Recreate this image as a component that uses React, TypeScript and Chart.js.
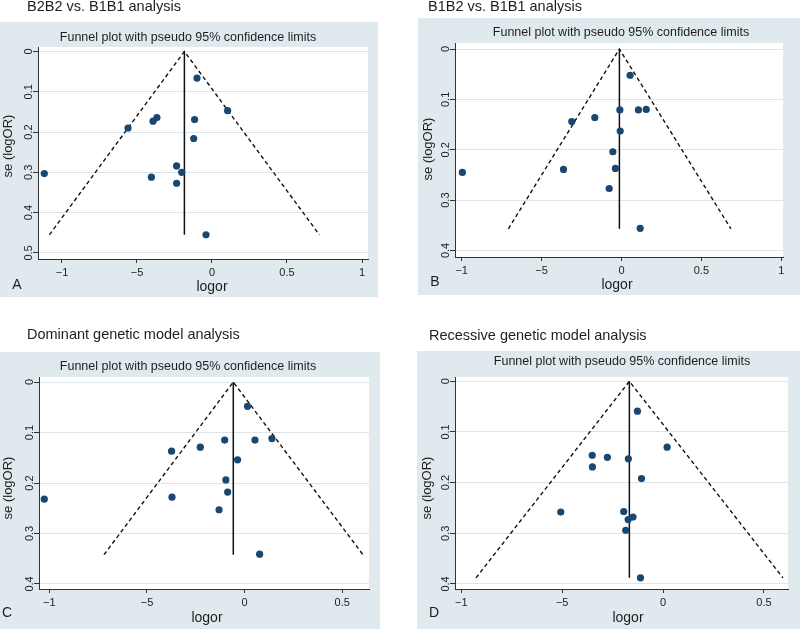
import React, { useEffect, useRef } from "react";
import { Chart, registerables } from "chart.js";
Chart.register(...registerables);

// ---------- DATA ----------
// Panel A: B2B2 vs. B1B1
const aLogor = [-0.1, 0.104, -0.367, -0.393, -0.56, -0.116, -0.122, -1.118, -0.404, -0.236, -0.202, -0.236, -0.04];
const aSe = [0.066, 0.147, 0.164, 0.173, 0.19, 0.169, 0.216, 0.303, 0.312, 0.284, 0.3, 0.327, 0.455];
const aPooled = -0.184;
const aSeMax = 0.455;
const aFunnelX = [-1.084, -0.184, 0.716];
const aFunnelY = [0.455, 0, 0.455];

// Panel B: B1B2 vs. B1B1
const bLogor = [0.054, -0.01, 0.106, 0.155, -0.311, -0.167, -0.008, -0.054, -0.363, -0.038, -0.996, -0.077, 0.117];
const bSe = [0.052, 0.121, 0.121, 0.12, 0.144, 0.136, 0.163, 0.204, 0.239, 0.237, 0.245, 0.277, 0.356];
const bPooled = -0.013;
const bSeMax = 0.357;
const bFunnelX = [-0.708, -0.013, 0.685];
const bFunnelY = [0.357, 0, 0.357];

// Panel C: Dominant genetic model
const cLogor = [0.015, 0.14, 0.053, -0.102, -0.227, -0.374, -0.036, -0.096, -0.087, -0.372, -1.026, -0.131, 0.077];
const cSe = [0.048, 0.112, 0.115, 0.115, 0.129, 0.137, 0.154, 0.194, 0.218, 0.228, 0.232, 0.253, 0.341];
const cPooled = -0.058;
const cSeMax = 0.342;
const cFunnelX = [-0.72, -0.058, 0.606];
const cFunnelY = [0.342, 0, 0.342];

// Panel D: Recessive genetic model
const dLogor = [-0.127, 0.02, -0.351, -0.276, -0.172, -0.35, -0.107, -0.507, -0.195, -0.149, -0.173, -0.185, -0.112];
const dSe = [0.059, 0.13, 0.146, 0.15, 0.153, 0.169, 0.192, 0.258, 0.257, 0.268, 0.273, 0.294, 0.388];
const dPooled = -0.167;
const dSeMax = 0.388;
const dFunnelX = [-0.927, -0.167, 0.594];
const dFunnelY = [0.388, 0, 0.388];

// Tick values and labels
const xTicksAB = [-1, -0.5, 0, 0.5, 1];
const xLabelsAB = ["\u22121", "\u22125", "0", "0.5", "1"];
const xTicksCD = [-1, -0.5, 0, 0.5];
const xLabelsCD = ["\u22121", "\u22125", "0", "0.5"];
const yTicksA = [0, 0.1, 0.2, 0.3, 0.4, 0.5];
const yLabelsA = ["0", "0.1", "0.2", "0.3", "0.4", "0.5"];
const yTicksBCD = [0, 0.1, 0.2, 0.3, 0.4];
const yLabelsBCD = ["0", "0.1", "0.2", "0.3", "0.4"];

const headings = [
  "B2B2 vs. B1B1 analysis",
  "B1B2 vs. B1B1 analysis",
  "Dominant genetic model analysis",
  "Recessive genetic model analysis",
];
const letters = ["A", "B", "C", "D"];
const plotTitle = "Funnel plot with pseudo 95% confidence limits";
const xTitle = "logor";
const yTitle = "se (logOR)";

// ---------- LAYOUT ----------
const FONT = '"Liberation Sans", Arial, Helvetica, sans-serif';
const BG = "#e0eaee";
const GRID = "#dbe5ea";
const DOT = "#1a476f";
const INK = "#1e1e1e";

type Layout = {
  left: number; top: number; w: number; h: number;
  bg: { x: number; y: number; w: number; h: number };
  area: { l: number; t: number; r: number; b: number };
  xRange: [number, number]; yRange: [number, number];
  heading: [number, number]; title: [number, number]; xT: [number, number]; yT: [number, number]; letter: [number, number];
};

const layouts: Layout[] = [
  {
    left: 0, top: 0, w: 400, h: 314,
    bg: { x: 0, y: 22, w: 378, h: 275 },
    area: { l: 38, t: 47, r: 368, b: 259 },
    xRange: [-1.16, 1.04], yRange: [-0.011, 0.515],
    heading: [27, 11], title: [188, 38], xT: [212, 287], yT: [8, 146], letter: [17, 285],
  },
  {
    left: 400, top: 0, w: 400, h: 314,
    bg: { x: 18, y: 18, w: 382, h: 277 },
    area: { l: 55, t: 43, r: 383, b: 257 },
    xRange: [-1.042, 1.011], yRange: [-0.012, 0.413],
    heading: [28, 11], title: [221, 33], xT: [217, 285], yT: [28, 149], letter: [35, 282],
  },
  {
    left: 0, top: 314, w: 400, h: 315,
    bg: { x: 0, y: 38, w: 380, h: 277 },
    area: { l: 39, t: 63, r: 369, b: 275 },
    xRange: [-1.053, 0.637], yRange: [-0.01, 0.41],
    heading: [27, 25], title: [188, 53], xT: [207, 304], yT: [8, 174], letter: [7, 299],
  },
  {
    left: 400, top: 314, w: 400, h: 315,
    bg: { x: 17, y: 37, w: 383, h: 278 },
    area: { l: 55, t: 63, r: 388, b: 275 },
    xRange: [-1.031, 0.619], yRange: [-0.0085, 0.41],
    heading: [29, 26], title: [222, 48], xT: [228, 304], yT: [27, 174], letter: [34, 299],
  },
];

type PanelData = {
  logor: number[]; se: number[]; pooled: number; seMax: number;
  funnelX: number[]; funnelY: number[];
  xTicks: number[]; xLabels: string[]; yTicks: number[]; yLabels: string[];
};

const panels: PanelData[] = [
  { logor: aLogor, se: aSe, pooled: aPooled, seMax: aSeMax, funnelX: aFunnelX, funnelY: aFunnelY, xTicks: xTicksAB, xLabels: xLabelsAB, yTicks: yTicksA, yLabels: yLabelsA },
  { logor: bLogor, se: bSe, pooled: bPooled, seMax: bSeMax, funnelX: bFunnelX, funnelY: bFunnelY, xTicks: xTicksAB, xLabels: xLabelsAB, yTicks: yTicksBCD, yLabels: yLabelsBCD },
  { logor: cLogor, se: cSe, pooled: cPooled, seMax: cSeMax, funnelX: cFunnelX, funnelY: cFunnelY, xTicks: xTicksCD, xLabels: xLabelsCD, yTicks: yTicksBCD, yLabels: yLabelsBCD },
  { logor: dLogor, se: dSe, pooled: dPooled, seMax: dSeMax, funnelX: dFunnelX, funnelY: dFunnelY, xTicks: xTicksCD, xLabels: xLabelsCD, yTicks: yTicksBCD, yLabels: yLabelsBCD },
];

function Panel({ idx }: { idx: number }) {
  const ref = useRef<HTMLCanvasElement | null>(null);
  const L = layouts[idx];
  const P = panels[idx];

  useEffect(() => {
    if (!ref.current) return;
    const bgPlugin = {
      id: "bgPlugin",
      beforeDraw(chart: any) {
        const ctx = chart.ctx;
        ctx.save();
        ctx.fillStyle = BG;
        ctx.fillRect(L.bg.x, L.bg.y, L.bg.w, L.bg.h);
        const a = chart.chartArea;
        ctx.fillStyle = "#ffffff";
        ctx.fillRect(a.left, a.top, a.right - a.left, a.bottom - a.top);
        ctx.restore();
      },
      afterDraw(chart: any) {
        const ctx = chart.ctx;
        ctx.save();
        ctx.fillStyle = INK;
        ctx.textBaseline = "alphabetic";
        ctx.textAlign = "left";
        ctx.font = `14.5px ${FONT}`;
        ctx.fillText(headings[idx], L.heading[0], L.heading[1]);
        ctx.textBaseline = "middle";
        ctx.textAlign = "center";
        ctx.font = `12.5px ${FONT}`;
        ctx.fillText(plotTitle, L.title[0], L.title[1]);
        ctx.font = `14px ${FONT}`;
        ctx.fillText(xTitle, L.xT[0], L.xT[1]);
        ctx.font = `14px ${FONT}`;
        ctx.fillText(letters[idx], L.letter[0], L.letter[1]);
        ctx.translate(L.yT[0], L.yT[1]);
        ctx.rotate(-Math.PI / 2);
        ctx.font = `13px ${FONT}`;
        ctx.fillText(yTitle, 0, 0);
        ctx.restore();
      },
    };

    const points = P.logor.map((x, i) => ({ x, y: P.se[i] }));
    const funnel = P.funnelX.map((x, i) => ({ x, y: P.funnelY[i] }));
    const vline = [
      { x: P.pooled, y: 0 },
      { x: P.pooled, y: P.seMax },
    ];

    const chart = new Chart(ref.current, {
      type: "scatter",
      data: {
        datasets: [
          {
            data: points,
            pointRadius: 3.6,
            pointBackgroundColor: DOT,
            pointBorderWidth: 0,
            showLine: false,
          },
          {
            data: vline,
            showLine: true,
            borderColor: "#111",
            borderWidth: 1.5,
            pointRadius: 0,
          },
          {
            data: funnel,
            showLine: true,
            borderColor: "#111",
            borderWidth: 1.4,
            borderDash: [4, 3],
            pointRadius: 0,
          },
        ],
      },
      options: {
        responsive: false,
        animation: false,
        events: [],
        layout: { padding: { left: 0, top: L.area.t, right: L.w - L.area.r, bottom: 0 } },
        plugins: { legend: { display: false }, tooltip: { enabled: false }, title: { display: false } },
        scales: {
          x: {
            type: "linear",
            min: L.xRange[0],
            max: L.xRange[1],
            afterBuildTicks: (s: any) => { s.ticks = P.xTicks.map((v) => ({ value: v })); },
            afterFit: (s: any) => { s.height = L.h - L.area.b; },
            grid: { display: true, drawOnChartArea: false, drawTicks: true, tickLength: 4, tickColor: "#333", lineWidth: 1 },
            border: { display: true, color: "#333", width: 1 },
            ticks: {
              padding: 3,
              color: INK,
              font: { family: FONT, size: 11 },
              maxRotation: 0,
              minRotation: 0,
              callback: (v: any) => {
                const i = P.xTicks.findIndex((t) => Math.abs(t - Number(v)) < 1e-9);
                return i >= 0 ? P.xLabels[i] : "";
              },
            },
          },
          y: {
            type: "linear",
            reverse: true,
            min: L.yRange[0],
            max: L.yRange[1],
            afterBuildTicks: (s: any) => { s.ticks = P.yTicks.map((v) => ({ value: v })); },
            afterFit: (s: any) => { s.width = L.area.l; },
            grid: { display: true, drawOnChartArea: true, drawTicks: true, tickLength: 5, color: GRID, tickColor: "#333", lineWidth: 1 },
            border: { display: true, color: "#333", width: 1 },
            ticks: {
              padding: -4,
              crossAlign: "center",
              color: INK,
              font: { family: FONT, size: 11 },
              minRotation: 90,
              maxRotation: 90,
              callback: (v: any) => {
                const i = P.yTicks.findIndex((t) => Math.abs(t - Number(v)) < 1e-9);
                return i >= 0 ? P.yLabels[i] : "";
              },
            },
          },
        },
      },
      plugins: [bgPlugin],
    } as any);
    return () => chart.destroy();
  }, [idx]);

  return (
    <canvas
      ref={ref}
      width={L.w}
      height={L.h}
      style={{ position: "absolute", left: L.left, top: L.top, width: L.w, height: L.h }}
    />
  );
}

export default function App() {
  return (
    <div style={{ position: "absolute", left: 0, top: 0, width: 800, height: 629, background: "#ffffff", overflow: "hidden" }}>
      {[0, 1, 2, 3].map((i) => (
        <Panel key={i} idx={i} />
      ))}
    </div>
  );
}
